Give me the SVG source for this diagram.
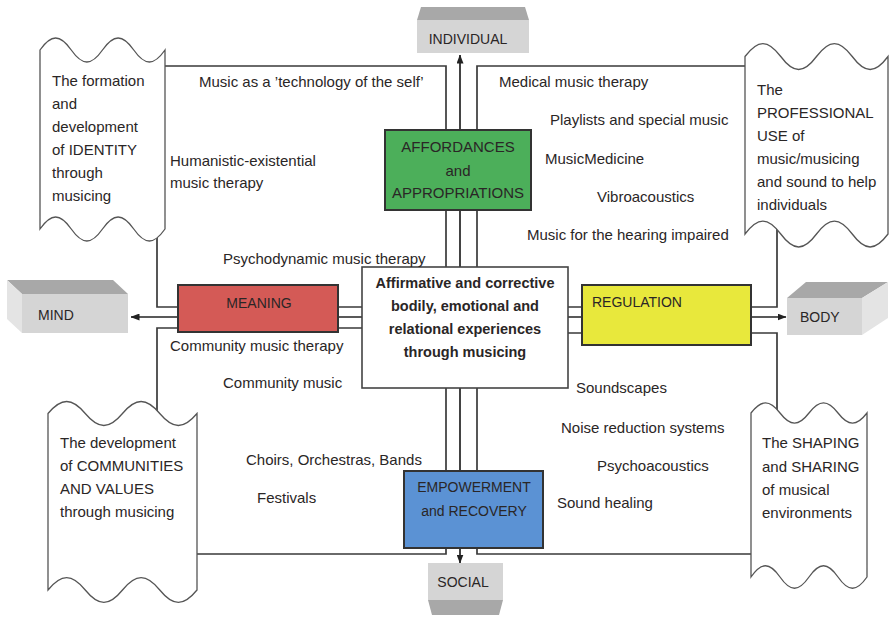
<svg xmlns="http://www.w3.org/2000/svg" width="889" height="617" viewBox="0 0 889 617">
<defs>
<marker id="ah" markerWidth="9" markerHeight="7" refX="8.5" refY="3.5" orient="auto" markerUnits="userSpaceOnUse"><path d="M0,0 L9,3.5 L0,7 z" fill="#222"/></marker>
<style>
text{font-family:"Liberation Sans",Arial,sans-serif;fill:#2a2626;font-size:15px}
.cap{font-size:14px}
.ctr{text-anchor:middle}
.b{font-weight:bold;font-size:14.5px}
.tape{fill:#fff;stroke:#555;stroke-width:1.3}
.line{fill:none;stroke:#3a3a3a;stroke-width:1.7}
.arrow{fill:none;stroke:#222;stroke-width:1.7;marker-end:url(#ah)}
.box{stroke:#333;stroke-width:2}
.front{fill:#d5d5d5}
.topf{fill:#a8a8a8}
.side{fill:#e4e4e4}
</style>
</defs>
<rect width="889" height="617" fill="#fff"/>

<g id="connectors">
<path class="line" d="M160,66 H446 V307 H157 V225"/>
<path class="line" d="M752,66 H477 V307 H777 V225"/>
<path class="line" d="M157,425 V328 H446 V554 H190"/>
<path class="line" d="M777,422 V333 H477 V554 H760"/>
<path class="arrow" d="M460,300 V55"/>
<path class="arrow" d="M460,340 V563"/>
<path class="arrow" d="M440,317 H131"/>
<path class="arrow" d="M480,317 H786"/>
</g>

<g id="identity">
<path class="tape" d="M40,50 c11.25,-16 20,-16 31.25,0 s20,16 31.25,0 s20,-16 31.25,0 s20,16 31.25,0 V229 c-11.25,16 -20,16 -31.25,0 s-20,-16 -31.25,0 s-20,16 -31.25,0 s-20,-16 -31.25,0 Z"/>
<text x="52" y="86">The formation</text>
<text x="52" y="109">and</text>
<text x="52" y="132">development</text>
<text x="52" y="155">of IDENTITY</text>
<text x="52" y="178">through</text>
<text x="52" y="201">musicing</text>
</g>

<g id="professional">
<path class="tape" d="M745,56.5 c12.87,-17.3 22.88,-17.3 35.75,0 s22.88,17.3 35.75,0 s22.88,-17.3 35.75,0 s22.88,17.3 35.75,0 V234 c-12.87,17.3 -22.88,17.3 -35.75,0 s-22.88,-17.3 -35.75,0 s-22.88,17.3 -35.75,0 s-22.88,-17.3 -35.75,0 Z"/>
<text x="757" y="95">The</text>
<text x="757" y="118">PROFESSIONAL</text>
<text x="757" y="141">USE of</text>
<text x="757" y="164">music/musicing</text>
<text x="757" y="187">and sound to help</text>
<text x="757" y="210">individuals</text>
</g>

<g id="communities">
<path class="tape" d="M48,413.5 c13.41,-16 23.84,-16 37.25,0 s23.84,16 37.25,0 s23.84,-16 37.25,0 s23.84,16 37.25,0 V590 c-13.41,16.5 -23.84,16.5 -37.25,0 s-23.84,-16.5 -37.25,0 s-23.84,16.5 -37.25,0 s-23.84,-16.5 -37.25,0 Z"/>
<text x="60" y="448">The development</text>
<text x="60" y="471">of COMMUNITIES</text>
<text x="60" y="494">AND VALUES</text>
<text x="60" y="517">through musicing</text>
</g>

<g id="environments">
<path class="tape" d="M751,413 c10.44,-13.5 18.56,-13.5 29,0 s18.56,13.5 29,0 s18.56,-13.5 29,0 s18.56,13.5 29,0 V577 c-10.44,15 -18.56,15 -29,0 s-18.56,-15 -29,0 s-18.56,15 -29,0 s-18.56,-15 -29,0 Z"/>
<text x="762" y="448">The SHAPING</text>
<text x="762" y="472">and SHARING</text>
<text x="762" y="495">of musical</text>
<text x="762" y="518">environments</text>
</g>

<g id="individual">
<polygon class="topf" points="417,20 421,7 525,7 529,20"/>
<rect class="front" x="417" y="20" width="112" height="33"/>
<text class="cap" x="468" y="44" text-anchor="middle">INDIVIDUAL</text>
</g>

<g id="mind">
<polygon class="topf" points="7,280 113,280 128,294 22,294"/>
<polygon class="side" points="7,280 22,294 22,333 7,319"/>
<rect class="front" x="22" y="294" width="106" height="39"/>
<text class="cap" x="38" y="320">MIND</text>
</g>

<g id="body">
<polygon class="topf" points="787,298 806,282 888,282 862,298"/>
<polygon class="side" points="862,298 888,282 888,318 862,335"/>
<rect class="front" x="787" y="298" width="75" height="37"/>
<text class="cap" x="800" y="322">BODY</text>
</g>

<g id="social">
<rect class="front" x="428" y="563" width="75" height="37"/>
<polygon class="topf" points="428,600 503,600 499,615 432,615"/>
<text class="cap" x="463" y="587" text-anchor="middle">SOCIAL</text>
</g>

<g id="affordances">
<rect class="box" x="385" y="130" width="146" height="80" fill="#4caf5a"/>
<text class="ctr" x="458" y="152" font-size="13.5">AFFORDANCES</text>
<text class="ctr" x="458" y="176" font-size="13.5">and</text>
<text class="ctr" x="458" y="198" font-size="13.5">APPROPRIATIONS</text>
</g>

<g id="meaning">
<rect class="box" x="178" y="285" width="160" height="47" fill="#d45a56"/>
<text class="cap ctr" x="259" y="308">MEANING</text>
</g>

<g id="regulation">
<rect class="box" x="582" y="285" width="169" height="60" fill="#e8e83c"/>
<text class="cap" x="592" y="307">REGULATION</text>
</g>

<g id="empowerment">
<rect class="box" x="404" y="471" width="139" height="77" fill="#5b92d4"/>
<text class="cap ctr" x="474" y="492">EMPOWERMENT</text>
<text class="cap ctr" x="474" y="516">and RECOVERY</text>
</g>

<g id="center">
<rect x="362" y="267" width="206" height="121" fill="#fff" stroke="#444" stroke-width="1.6"/>
<text class="b ctr" x="465" y="288">Affirmative and corrective</text>
<text class="b ctr" x="465" y="311">bodily, emotional and</text>
<text class="b ctr" x="465" y="334">relational experiences</text>
<text class="b ctr" x="465" y="357">through musicing</text>
</g>

<g id="labels">
<text x="199" y="87">Music as a ’technology of the self’</text>
<text x="170" y="166">Humanistic-existential</text>
<text x="170" y="188">music therapy</text>
<text x="223" y="264">Psychodynamic music therapy</text>
<text x="170" y="351">Community music therapy</text>
<text x="223" y="388">Community music</text>
<text x="246" y="465">Choirs, Orchestras, Bands</text>
<text x="257" y="503">Festivals</text>
<text x="499" y="87">Medical music therapy</text>
<text x="550" y="125">Playlists and special music</text>
<text x="545" y="164">MusicMedicine</text>
<text x="597" y="202">Vibroacoustics</text>
<text x="527" y="240">Music for the hearing impaired</text>
<text x="576" y="393">Soundscapes</text>
<text x="561" y="433">Noise reduction systems</text>
<text x="597" y="471">Psychoacoustics</text>
<text x="557" y="508">Sound healing</text>
</g>
</svg>
